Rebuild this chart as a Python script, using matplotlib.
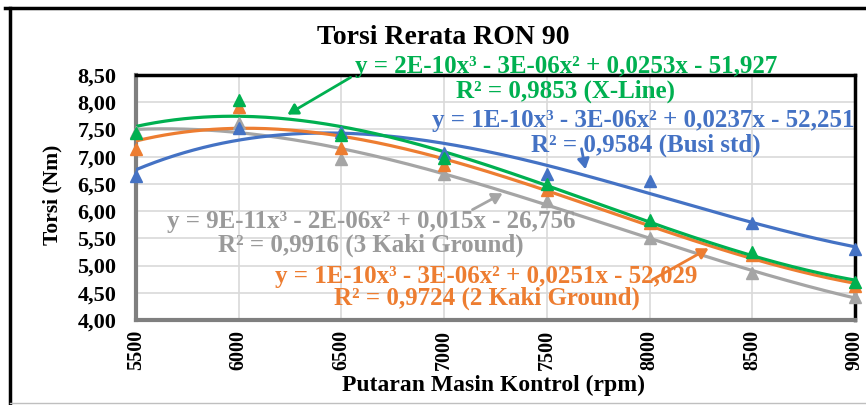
import numpy as np
import matplotlib
matplotlib.use("Agg")
import matplotlib.pyplot as plt
from matplotlib.lines import Line2D
from matplotlib.patches import FancyArrowPatch

rpm = [5500, 6000, 6500, 7000, 7500, 8000, 8500, 9000]
busi_std = [6.65, 7.53, 7.45, 7.07, 6.69, 6.56, 5.79, 5.30]
x_line = [7.44, 8.04, 7.40, 6.98, 6.50, 5.83, 5.24, 4.69]
kaki2 = [7.14, 7.91, 7.16, 6.85, 6.39, 5.78, 5.20, 4.62]
kaki3 = [7.45, 7.62, 6.96, 6.69, 6.19, 5.51, 4.86, 4.42]

yticks = [4.0, 4.5, 5.0, 5.5, 6.0, 6.5, 7.0, 7.5, 8.0, 8.5]
ytick_labels = ["4,00", "4,50", "5,00", "5,50", "6,00", "6,50", "7,00", "7,50", "8,00", "8,50"]

title = "Torsi Rerata RON 90"
xlabel = "Putaran Masin Kontrol (rpm)"
ylabel = "Torsi (Nm)"

C_BLUE = "#4472C4"
C_GREEN = "#00B050"
C_ORANGE = "#ED7D31"
C_GRAY = "#A5A5A5"
C_GRAY_TXT = "#9A9A9A"

W, H = 866, 405
fig = plt.figure(figsize=(W / 100, H / 100), dpi=100)
FONT = "Liberation Serif"

def fp(x, y):
    return (x / W, 1 - y / H)

ax = fig.add_axes([136 / W, 1 - 320 / H, (855 - 136) / W, (320 - 75) / H])
ax.set_xlim(5500, 9000)
ax.set_ylim(4.0, 8.5)

xs = np.linspace(5500, 9000, 300)
series = [(kaki3, C_GRAY), (busi_std, C_BLUE), (kaki2, C_ORANGE), (x_line, C_GREEN)]
for vals, c in series:
    coef = np.polyfit(rpm, vals, 3)
    ax.plot(xs, np.polyval(coef, xs), color=c, lw=2.3, zorder=3)
for vals, c in series:
    ax.plot(rpm, vals, linestyle="none", marker="^", ms=8, color=c, zorder=4, clip_on=False)

ax.set_xticks(rpm)
ax.set_xticklabels([str(r) for r in rpm], rotation=90, fontsize=14.5, fontweight="bold", family=FONT)
ax.set_yticks(yticks)
ax.set_yticklabels(ytick_labels, fontsize=16, fontweight="bold", family=FONT)
ax.tick_params(axis="y", length=0, pad=14)
ax.tick_params(axis="x", length=0, pad=7)
ax.grid(True, color="#D9D9D9", lw=1.2, zorder=0)
ax.set_axisbelow(True)
for s in ["left", "bottom"]:
    ax.spines[s].set_color("#7F7F7F")
    ax.spines[s].set_linewidth(3)
for s in ["top", "right"]:
    ax.spines[s].set_color("black")
    ax.spines[s].set_linewidth(2.5)

fig.text(*fp(443, 38), title, ha="center", va="center", fontsize=20, fontweight="bold", family=FONT)
fig.text(*fp(493, 385), xlabel, ha="center", va="center", fontsize=17, fontweight="bold", family=FONT)
fig.text(*fp(52, 195), ylabel, ha="center", va="center", rotation=90, fontsize=15.5, fontweight="bold", family=FONT)

eq_fs = 18
labels = [
    ("y = 2E-10x³ - 3E-06x² + 0,0253x - 51,927", (566, 67), C_GREEN),
    ("R² = 0,9853 (X-Line)", (565, 91), C_GREEN),
    ("y = 1E-10x³ - 3E-06x² + 0,0237x - 52,251", (643, 121), C_BLUE),
    ("R² = 0,9584 (Busi std)", (646, 145), C_BLUE),
    ("y = 9E-11x³ - 2E-06x² + 0,015x - 26,756", (371, 221), C_GRAY_TXT),
    ("R² = 0,9916 (3 Kaki Ground)", (371, 245), C_GRAY_TXT),
    ("y = 1E-10x³ - 3E-06x² + 0,0251x - 52,029", (486, 276), C_ORANGE),
    ("R² = 0,9724 (2 Kaki Ground)", (487, 298), C_ORANGE),
]
for txt, (x, y), c in labels:
    fig.text(*fp(x, y), txt, ha="center", va="center", fontsize=eq_fs, fontweight="bold", family=FONT, color=c, zorder=6)

arrows = [
    ((353, 76), (285, 116), C_GREEN),
    ((581, 146), (586, 172), C_BLUE),
    ((470, 211), (505, 192), C_GRAY),
    ((650, 281), (711, 247), C_ORANGE),
]
for (x0, y0), (x1, y1), c in arrows:
    fig.add_artist(FancyArrowPatch(
        fp(x0, y0), fp(x1, y1), transform=fig.transFigure,
        arrowstyle="-|>,head_length=6,head_width=3.5", color=c, lw=2, zorder=6))

# outer chart border
fig.add_artist(Line2D([5 / W, 1], [1 - 8 / H, 1 - 8 / H], transform=fig.transFigure, color="black", lw=2.5))
fig.add_artist(Line2D([10 / W, 10 / W], [1 - 8 / H, 0], transform=fig.transFigure, color="black", lw=2.5))
fig.add_artist(Line2D([10 / W, 1], [1 - 403 / H, 1 - 403 / H], transform=fig.transFigure, color="#BFBFBF", lw=1))

fig.savefig("out.png", dpi=100)
